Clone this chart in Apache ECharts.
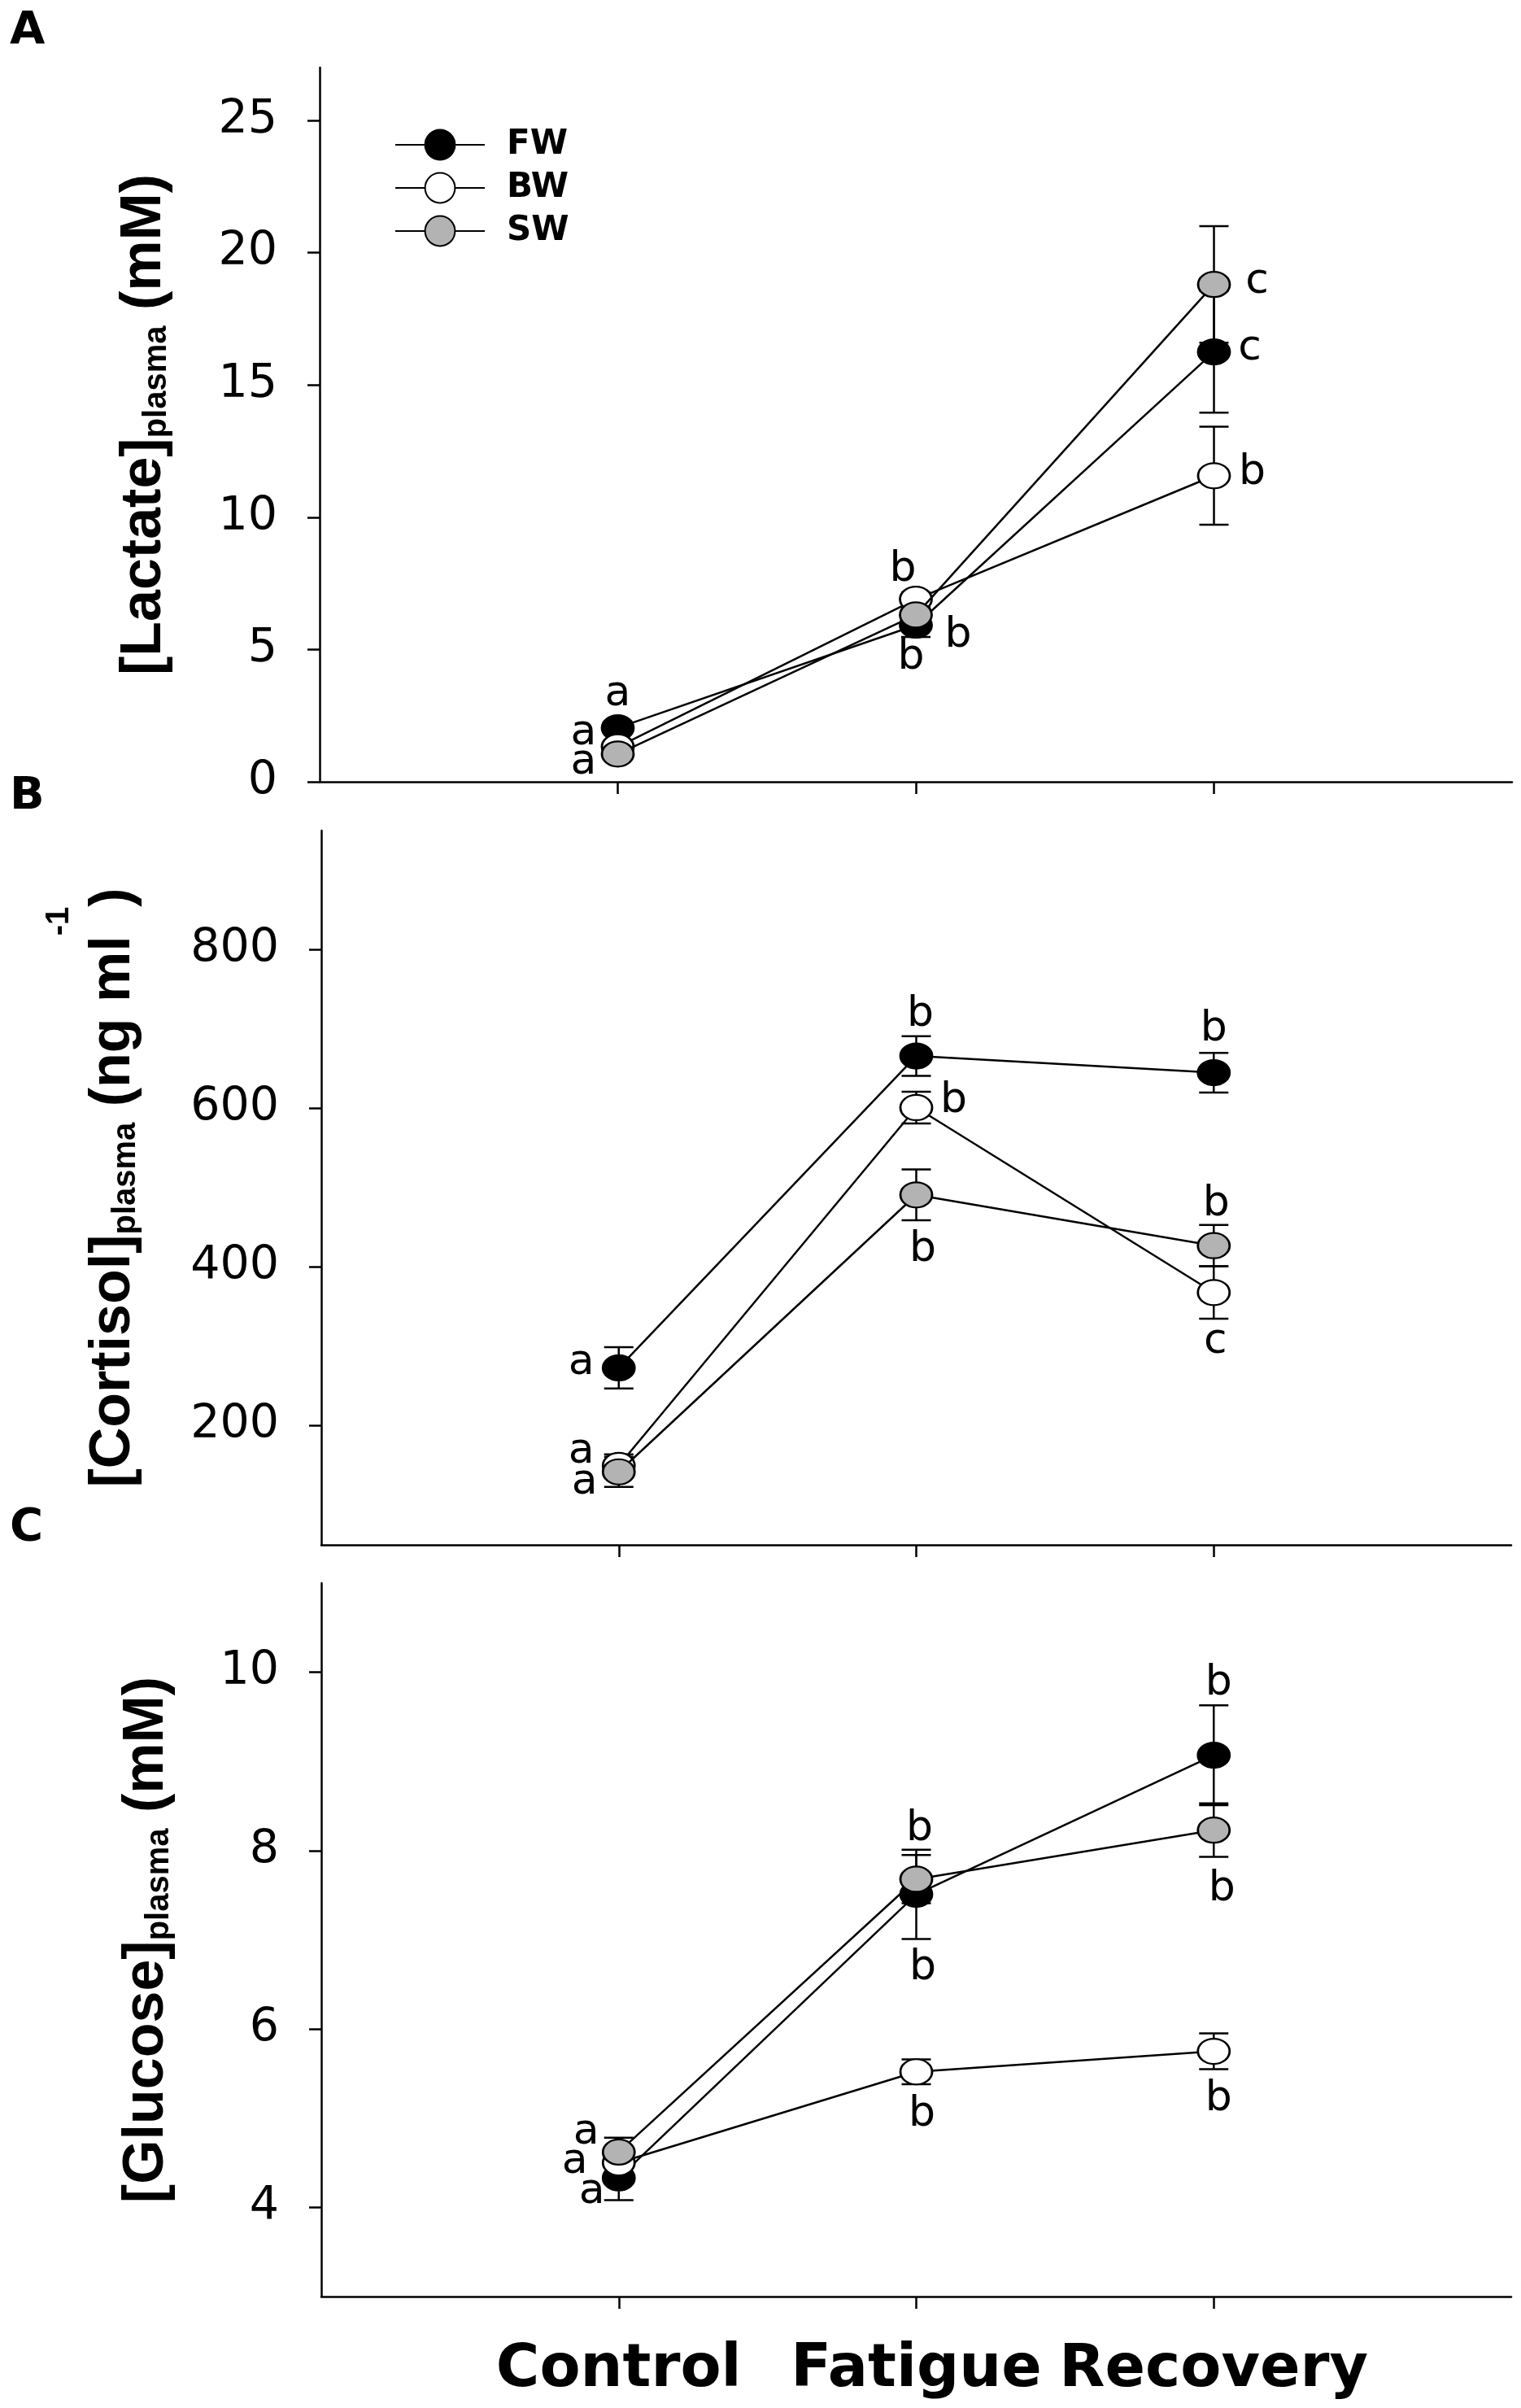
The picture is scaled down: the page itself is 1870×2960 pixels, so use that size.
<!DOCTYPE html>
<html>
<head>
<meta charset="utf-8">
<script src="https://cdn.jsdelivr.net/npm/echarts@6/dist/echarts.min.js"></script>
<style>
html, body { margin: 0; padding: 0; background: #fff; }
#main { width: 1870px; height: 2960px; }
</style>
</head>
<body>
<div id="main"></div>
<script>
var categories = ['Control', 'Fatigue', 'Recovery'];
var groups = ['FW', 'BW', 'SW'];

// A: lactate (mM), mean and SE
var lactateFW = [2.04, 5.92, 16.25];
var lactateBW = [1.32, 6.9, 11.57];
var lactateSW = [1.05, 6.31, 18.8];
var lactateFWse = [0.15, 0.45, 2.3];
var lactateBWse = [0.12, 0.26, 1.85];
var lactateSWse = [0.12, 0.3, 2.2];
var lactateFWsig = ['a', 'b', 'c'];
var lactateBWsig = ['a', 'b', 'b'];
var lactateSWsig = ['a', 'b', 'c'];
var lactateTicks = [0, 5, 10, 15, 20, 25];

// B: cortisol (ng/ml)
var cortisolFW = [273, 666, 645];
var cortisolBW = [150, 601, 368];
var cortisolSW = [142, 491, 427];
var cortisolFWse = [26, 25, 25];
var cortisolBWse = [14, 20, 33];
var cortisolSWse = [19, 32, 26];
var cortisolFWsig = ['a', 'b', 'b'];
var cortisolBWsig = ['a', 'b', 'c'];
var cortisolSWsig = ['a', 'b', 'b'];
var cortisolTicks = [200, 400, 600, 800];

// C: glucose (mM)
var glucoseFW = [4.33, 7.51, 9.07];
var glucoseBW = [4.50, 5.52, 5.75];
var glucoseSW = [4.62, 7.68, 8.23];
var glucoseFWse = [0.25, 0.5, 0.56];
var glucoseBWse = [0.1, 0.14, 0.2];
var glucoseSWse = [0.16, 0.27, 0.3];
var glucoseFWsig = ['a', 'b', 'b'];
var glucoseBWsig = ['a', 'b', 'b'];
var glucoseSWsig = ['a', 'b', 'b'];
var glucoseTicks = [4, 6, 8, 10];

// where each significance letter sits relative to its point (px)
var sigOffsets = [
    [[[0, -41], [-6, 40], [44, -4]], [[-42, -17], [-16, -36], [47, -3]], [[-42, 11], [52, 26], [53, -3]]],
    [[[-46, -6], [5, -51], [0, -53]], [[-46, -17], [46, -8], [2, 61]], [[-42, 13], [8, 68], [3, -51]]],
    [[[-33, 17], [8, 91], [6, -88]], [[-54, -1], [7, 53], [6, 59]], [[-40, -24], [4, -61], [10, 73]]]
];

var markerFill = {FW: '#000000', BW: '#ffffff', SW: '#b3b3b3'};
var sansFont = 'DejaVu Sans';
var nameFont = 'Liberation Sans';

var panels = [
    {
        letter: 'A', min: 0, max: 27, ticks: lactateTicks,
        name: '{m|[Lactate]}{s|plasma}{m| (mM)}', nameGap: 180,
        grid: {left: 393, top: 83, width: 1466, height: 878},
        means: [lactateFW, lactateBW, lactateSW],
        errors: [lactateFWse, lactateBWse, lactateSWse],
        sig: [lactateFWsig, lactateBWsig, lactateSWsig]
    },
    {
        letter: 'B', min: 50, max: 950, ticks: cortisolTicks,
        name: '{m|[Cortisol]}{s|plasma}{m| (ng ml}{p|-1}{m|)}', nameGap: 220,
        grid: {left: 395, top: 1021, width: 1463, height: 878},
        means: [cortisolFW, cortisolBW, cortisolSW],
        errors: [cortisolFWse, cortisolBWse, cortisolSWse],
        sig: [cortisolFWsig, cortisolBWsig, cortisolSWsig]
    },
    {
        letter: 'C', min: 3, max: 11, ticks: glucoseTicks,
        name: '{m|[Glucose]}{s|plasma}{m| (mM)}', nameGap: 179,
        grid: {left: 395, top: 1946, width: 1463, height: 877},
        means: [glucoseFW, glucoseBW, glucoseSW],
        errors: [glucoseFWse, glucoseBWse, glucoseSWse],
        sig: [glucoseFWsig, glucoseBWsig, glucoseSWsig]
    }
];
var titleTops = [5, 946, 1845];

function renderErrorBar(params, api) {
    var x = api.value(0);
    var y = api.value(1);
    var se = api.value(2);
    var top = api.coord([x, y + se]);
    var bottom = api.coord([x, y - se]);
    var half = 18;
    var style = {stroke: '#000', lineWidth: 2.5};
    return {
        type: 'group',
        children: [
            {type: 'line', shape: {x1: top[0], y1: top[1], x2: bottom[0], y2: bottom[1]}, style: style},
            {type: 'line', shape: {x1: top[0] - half, y1: top[1], x2: top[0] + half, y2: top[1]}, style: style},
            {type: 'line', shape: {x1: bottom[0] - half, y1: bottom[1], x2: bottom[0] + half, y2: bottom[1]}, style: style}
        ]
    };
}

var axisLine = {show: true, lineStyle: {color: '#000', width: 2.5}};
var grids = [], xAxes = [], yAxes = [], series = [], titles = [];

panels.forEach(function (p, pi) {
    var g = p.grid;
    grids.push({left: g.left, top: g.top, width: g.width, height: g.height, containLabel: false, outerBoundsMode: 'none'});
    titles.push({
        text: p.letter, left: 7, top: titleTops[pi],
        textStyle: {fontFamily: sansFont, fontWeight: 'bold', fontSize: 56, color: '#000'}
    });
    xAxes.push({
        type: 'value', gridIndex: pi, min: 0, max: 4,
        axisLine: axisLine,
        axisTick: {show: true, length: 15, lineStyle: {color: '#000', width: 2.5}, customValues: [1, 2, 3]},
        axisLabel: {
            show: pi === 2, margin: 55, customValues: [1, 2, 3],
            fontFamily: sansFont, fontWeight: 'bold', fontSize: 73, color: '#000',
            formatter: function (v) { return categories[v - 1] || ''; }
        },
        splitLine: {show: false}
    });
    yAxes.push({
        type: 'value', gridIndex: pi, min: p.min, max: p.max,
        axisLine: axisLine,
        axisTick: {show: true, length: 15, lineStyle: {color: '#000', width: 2.5}, customValues: p.ticks},
        axisLabel: {margin: 52, customValues: p.ticks, fontFamily: sansFont, fontSize: 57, color: '#000'},
        splitLine: {show: false},
        name: p.name,
        nameLocation: 'middle',
        nameGap: p.nameGap,
        nameTextStyle: {
            fontFamily: nameFont, fontWeight: 'bold', fontSize: 70, color: '#000',
            rich: {
                m: {fontFamily: nameFont, fontWeight: 'bold', fontSize: 70, lineHeight: 122, verticalAlign: 'bottom', color: '#000'},
                s: {fontFamily: nameFont, fontWeight: 'bold', fontSize: 40, lineHeight: 40, verticalAlign: 'bottom', color: '#000'},
                p: {fontFamily: nameFont, fontWeight: 'bold', fontSize: 40, lineHeight: 34, verticalAlign: 'top', color: '#000'}
            }
        }
    });

    // error bars under the markers
    groups.forEach(function (name, si) {
        series.push({
            type: 'custom', name: name + ' SE', xAxisIndex: pi, yAxisIndex: pi, z: 1,
            renderItem: renderErrorBar, clip: false,
            data: p.means[si].map(function (v, ci) { return [ci + 1, v, p.errors[si][ci]]; })
        });
    });
    groups.forEach(function (name, si) {
        series.push({
            type: 'line', name: name, xAxisIndex: pi, yAxisIndex: pi, z: 2 + si,
            symbol: 'circle', symbolSize: [39, 31],
            lineStyle: {color: '#000', width: 2.5},
            itemStyle: {color: markerFill[name], borderColor: '#000', borderWidth: 2.5},
            emphasis: {disabled: true},
            data: p.means[si].map(function (v, ci) {
                return {
                    value: [ci + 1, v],
                    label: {
                        show: true, position: 'inside', offset: sigOffsets[pi][si][ci],
                        formatter: p.sig[si][ci],
                        fontFamily: sansFont, fontSize: 52, color: '#000'
                    }
                };
            })
        });
    });
});

var option = {
    animation: false,
    backgroundColor: '#fff',
    title: titles,
    legend: {
        orient: 'vertical', left: 480, top: 152,
        itemWidth: 110, itemHeight: 46, itemGap: 11,
        selectedMode: false,
        data: groups,
        textStyle: {fontFamily: sansFont, fontWeight: 'bold', fontSize: 42, color: '#000', padding: [0, 0, 0, 22]}
    },
    grid: grids,
    xAxis: xAxes,
    yAxis: yAxes,
    series: series
};

echarts.init(document.getElementById('main')).setOption(option);
</script>
</body>
</html>
